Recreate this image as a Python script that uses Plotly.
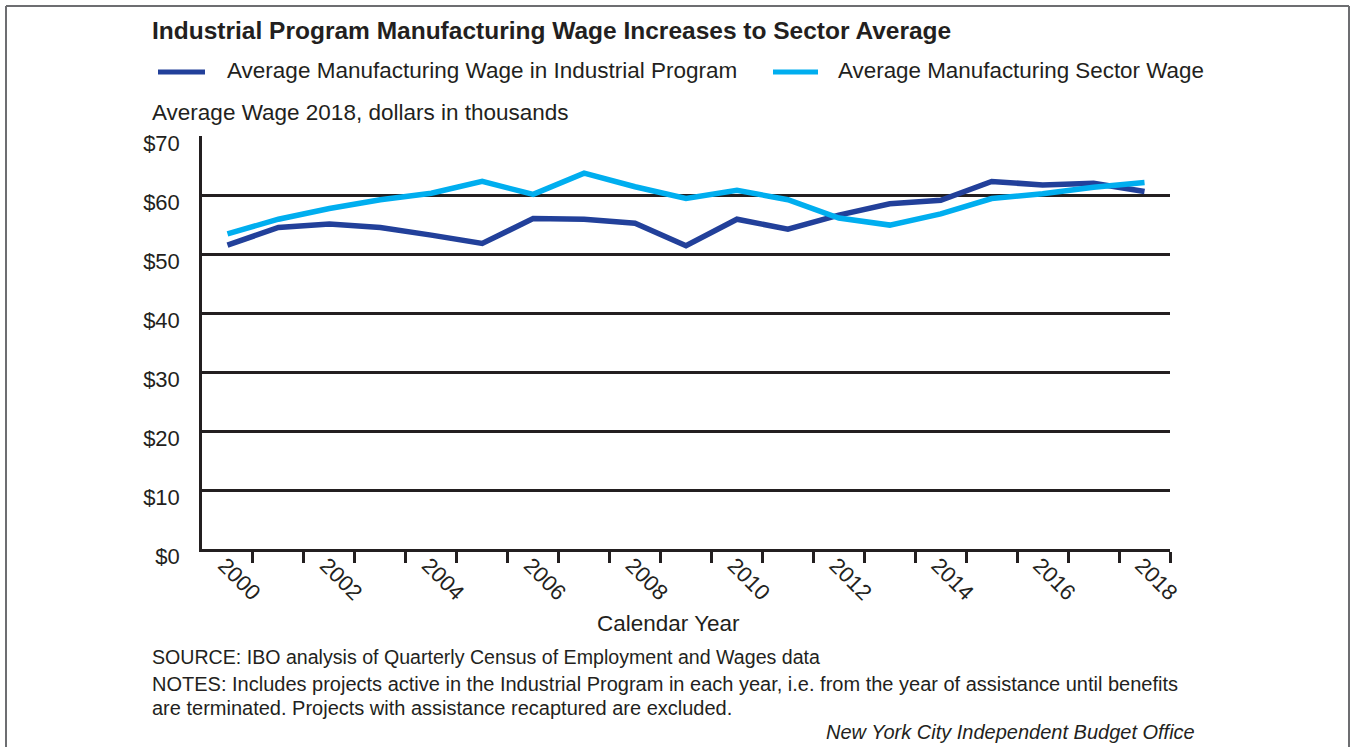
import plotly.graph_objects as go

# Calendar years and average wages (2018 dollars, thousands)
years = list(range(2000, 2019))
program_wage = [51.5, 54.5, 55.1, 54.5, 53.2, 51.8, 56.0, 55.9, 55.2, 51.4,
                55.9, 54.2, 56.6, 58.5, 59.1, 62.3, 61.7, 62.0, 60.6]
sector_wage = [53.4, 55.9, 57.7, 59.2, 60.3, 62.3, 60.1, 63.7, 61.4, 59.4,
               60.8, 59.2, 56.1, 54.9, 56.8, 59.4, 60.2, 61.3, 62.1]
series_names = ["Average Manufacturing Wage in Industrial Program",
                "Average Manufacturing Sector Wage"]
series_colors = ["#22409a", "#00aeef"]
y_ticks = [0, 10, 20, 30, 40, 50, 60, 70]
y_tick_text = ["$" + str(v) for v in y_ticks]
x_label_years = years[::2]

FONT = "Liberation Sans, Arial, sans-serif"
INK = "#231f20"

# plot-area frame in pixels
WIDTH, HEIGHT = 1353, 747
L, R, T, B = 202, 1170, 136, 549


def px(x):
    return (x - L) / (R - L)


def py(y):
    return (B - y) / (B - T)


fig = go.Figure()
for name, vals, col in zip(series_names, [program_wage, sector_wage], series_colors):
    fig.add_trace(go.Scatter(x=years, y=vals, mode="lines", name=name,
                             line=dict(color=col, width=5.5), showlegend=False))

fig.update_layout(
    width=WIDTH, height=HEIGHT,
    margin=dict(l=L, r=WIDTH - R, t=T, b=HEIGHT - B),
    paper_bgcolor="white", plot_bgcolor="white",
    font=dict(family=FONT, color=INK, size=20),
)
fig.update_xaxes(
    range=[1999.5, 2018.5], showgrid=False, zeroline=False,
    showline=True, linecolor=INK, linewidth=2.5,
    tickmode="array", tickvals=x_label_years,
    ticktext=[str(y) for y in x_label_years],
    ticks="outside", ticklen=0, tickangle=45,
    ticklabelstandoff=-8, ticklabelshift=-3,
    tickfont=dict(size=22, color=INK),
    minor=dict(tickmode="array", tickvals=[y + 0.5 for y in years],
               ticks="outside", ticklen=11, tickwidth=2.5, tickcolor=INK),
)
fig.update_yaxes(
    range=[0, 70], tickmode="array", tickvals=y_ticks, ticktext=y_tick_text,
    showgrid=True, gridcolor=INK, gridwidth=2.5, zeroline=False,
    showline=True, linecolor=INK, linewidth=2.5,
    ticks="", ticklabelstandoff=15, ticklabelshift=7,
    tickfont=dict(size=22, color=INK),
)

annotations = [
    dict(x=px(150), y=py(30), text="<b>Industrial Program Manufacturing Wage Increases to Sector Average</b>",
         xanchor="left", yanchor="middle", font=dict(size=24.5, color=INK)),
    dict(x=px(150), y=py(112), text="Average Wage 2018, dollars in thousands",
         xanchor="left", yanchor="middle", font=dict(size=22.5, color=INK)),
    dict(x=px(668), y=py(623), text="Calendar Year",
         xanchor="center", yanchor="middle", font=dict(size=22.5, color=INK)),
    dict(x=px(150), y=py(657), text="SOURCE: IBO analysis of Quarterly Census of Employment and Wages data",
         xanchor="left", yanchor="middle", font=dict(size=19.6, color=INK)),
    dict(x=px(150), y=py(684), text="NOTES: Includes projects active in the Industrial Program in each year, i.e. from the year of assistance until benefits",
         xanchor="left", yanchor="middle", font=dict(size=20, color=INK)),
    dict(x=px(150), y=py(708), text="are terminated. Projects with assistance recaptured are excluded.",
         xanchor="left", yanchor="middle", font=dict(size=20, color=INK)),
    dict(x=px(1197), y=py(732), text="<i>New York City Independent Budget Office</i>",
         xanchor="right", yanchor="middle", font=dict(size=20, color=INK)),
]
# legend entries
legend_pos = [(158, 205, 225, 22.5), (773, 818, 836, 22.4)]
shapes = []
for (x0, x1, tx, fs), name, col in zip(legend_pos, series_names, series_colors):
    shapes.append(dict(type="line", xref="paper", yref="paper",
                       x0=px(x0), x1=px(x1), y0=py(72), y1=py(72),
                       line=dict(color=col, width=5)))
    annotations.append(dict(x=px(tx), y=py(70), text=name, xanchor="left",
                            yanchor="middle", font=dict(size=fs, color=INK)))
for a in annotations:
    a.update(xref="paper", yref="paper", showarrow=False)

# outer frame (left, top, right edges)
frame = dict(color="#6d6e71", width=2)
shapes += [
    dict(type="line", xref="paper", yref="paper", x0=px(6), x1=px(6), y0=py(6), y1=py(760), line=frame),
    dict(type="line", xref="paper", yref="paper", x0=px(6), x1=px(1349), y0=py(6), y1=py(6), line=frame),
    dict(type="line", xref="paper", yref="paper", x0=px(1349), x1=px(1349), y0=py(6), y1=py(760), line=frame),
]
fig.update_layout(annotations=annotations, shapes=shapes)

fig.write_html("out.html")
